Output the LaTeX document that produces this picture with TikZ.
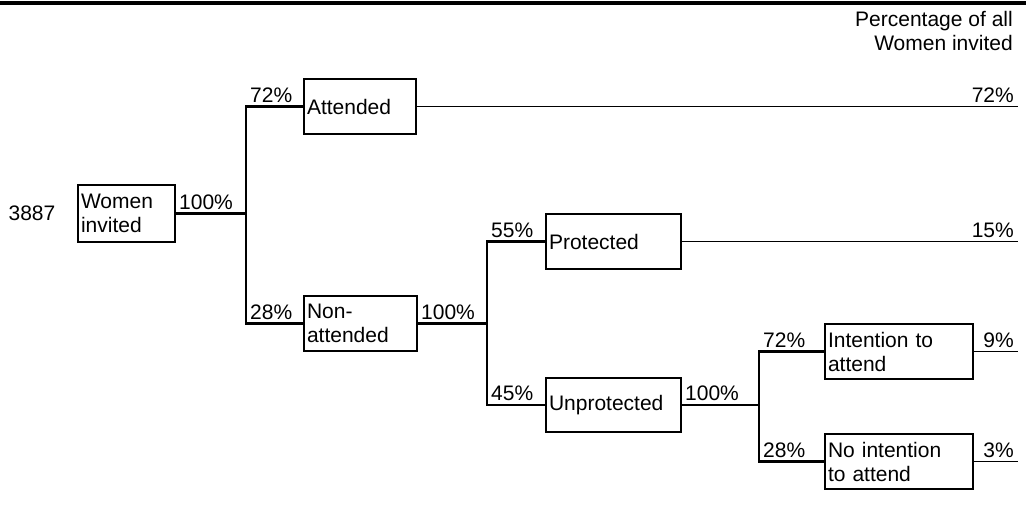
\documentclass[tikz,border=0pt]{standalone}
\usepackage{fontspec}
\setmainfont{Liberation Sans}
\begin{document}
\begin{tikzpicture}[x=1pt,y=-1pt,
  box/.style={draw,line width=2pt,inner sep=3pt,align=left,anchor=north west},
  conn/.style={line width=2.2pt},
  thin/.style={line width=0.9pt},
  lbl/.style={inner sep=1pt,font=\fontsize{21}{24}\selectfont},
  every node/.append style={font=\fontsize{21}{24}\selectfont}]
\useasboundingbox (0,0) rectangle (1026,512);
\draw[line width=3.5pt] (0,3) -- (1026,3);
\node[anchor=east,align=right,inner sep=0pt] (hdr) at (1013,31) {Percentage of all\\Women invited};
\node[inner sep=0pt] (n3887) at (32,213) {3887};
% boxes
\node[box,minimum width=97pt,minimum height=57pt,text width=91pt] (women) at (77,184) {Women\\invited};
\node[box,minimum width=112pt,minimum height=55pt,text width=106pt] (att) at (303,78) {Attended};
\node[box,minimum width=113pt,minimum height=55pt,text width=107pt] (non) at (303,295) {Non-\\attended};
\node[box,minimum width=135pt,minimum height=55pt,text width=129pt] (prot) at (545,213) {Protected};
\node[box,minimum width=135pt,minimum height=54pt,text width=129pt] (unprot) at (545,377) {Unprotected};
\node[box,minimum width=148pt,minimum height=55pt,text width=142pt] (intent) at (824,323) {Intention to\\attend};
\node[box,minimum width=148pt,minimum height=55pt,text width=142pt] (nointent) at (824,433) {No intention\\to attend};
% junction x-positions
\coordinate (j1) at (246,0);
\coordinate (j2) at (487,0);
\coordinate (j3) at (759,0);
% connectors
\draw[conn] (women.east) -- (women.east -| j1);
\draw[conn] (att.west) -| (j1 |- women.east) |- (non.west);
\draw[conn] (non.east) -- (non.east -| j2);
\draw[conn] (prot.west) -| (j2 |- non.east) |- (unprot.west);
\draw[conn] (unprot.east) -- (unprot.east -| j3);
\draw[conn] (intent.west) -| (j3 |- unprot.east) |- (nointent.west);
% end lines
\coordinate (e1) at (1018,0);
\draw[thin] (att.east) -- (att.east -| e1) coordinate (a1);
\draw[thin] (prot.east) -- (prot.east -| e1) coordinate (a2);
\draw[thin] (intent.east) -- (intent.east -| e1) coordinate (a3);
\draw[thin] (nointent.east) -- (nointent.east -| e1) coordinate (a4);
\node[lbl,anchor=south east] (r1) at ([shift={(-3,-3)}]a1) {72\%};
\node[lbl,anchor=south east] (r2) at ([shift={(-3,-3)}]a2) {15\%};
\node[lbl,anchor=south east] (r3) at ([shift={(-3,-3)}]a3) {9\%};
\node[lbl,anchor=south east] (r4) at ([shift={(-3,-3)}]a4) {3\%};
% branch labels
\node[lbl,anchor=south west] (l1) at ([shift={(2,-3)}]women.east) {100\%};
\node[lbl,anchor=south west] (l2) at ([shift={(3,-3)}]j1 |- att.west) {72\%};
\node[lbl,anchor=south west] (l3) at ([shift={(3,-3)}]j1 |- non.west) {28\%};
\node[lbl,anchor=south west] (l4) at ([shift={(2,-3)}]non.east) {100\%};
\node[lbl,anchor=south west] (l5) at ([shift={(3,-3)}]j2 |- prot.west) {55\%};
\node[lbl,anchor=south west] (l6) at ([shift={(3,-3)}]j2 |- unprot.west) {45\%};
\node[lbl,anchor=south west] (l7) at ([shift={(2,-3)}]unprot.east) {100\%};
\node[lbl,anchor=south west] (l8) at ([shift={(3,-3)}]j3 |- intent.west) {72\%};
\node[lbl,anchor=south west] (l9) at ([shift={(3,-3)}]j3 |- nointent.west) {28\%};
\end{tikzpicture}
\end{document}
